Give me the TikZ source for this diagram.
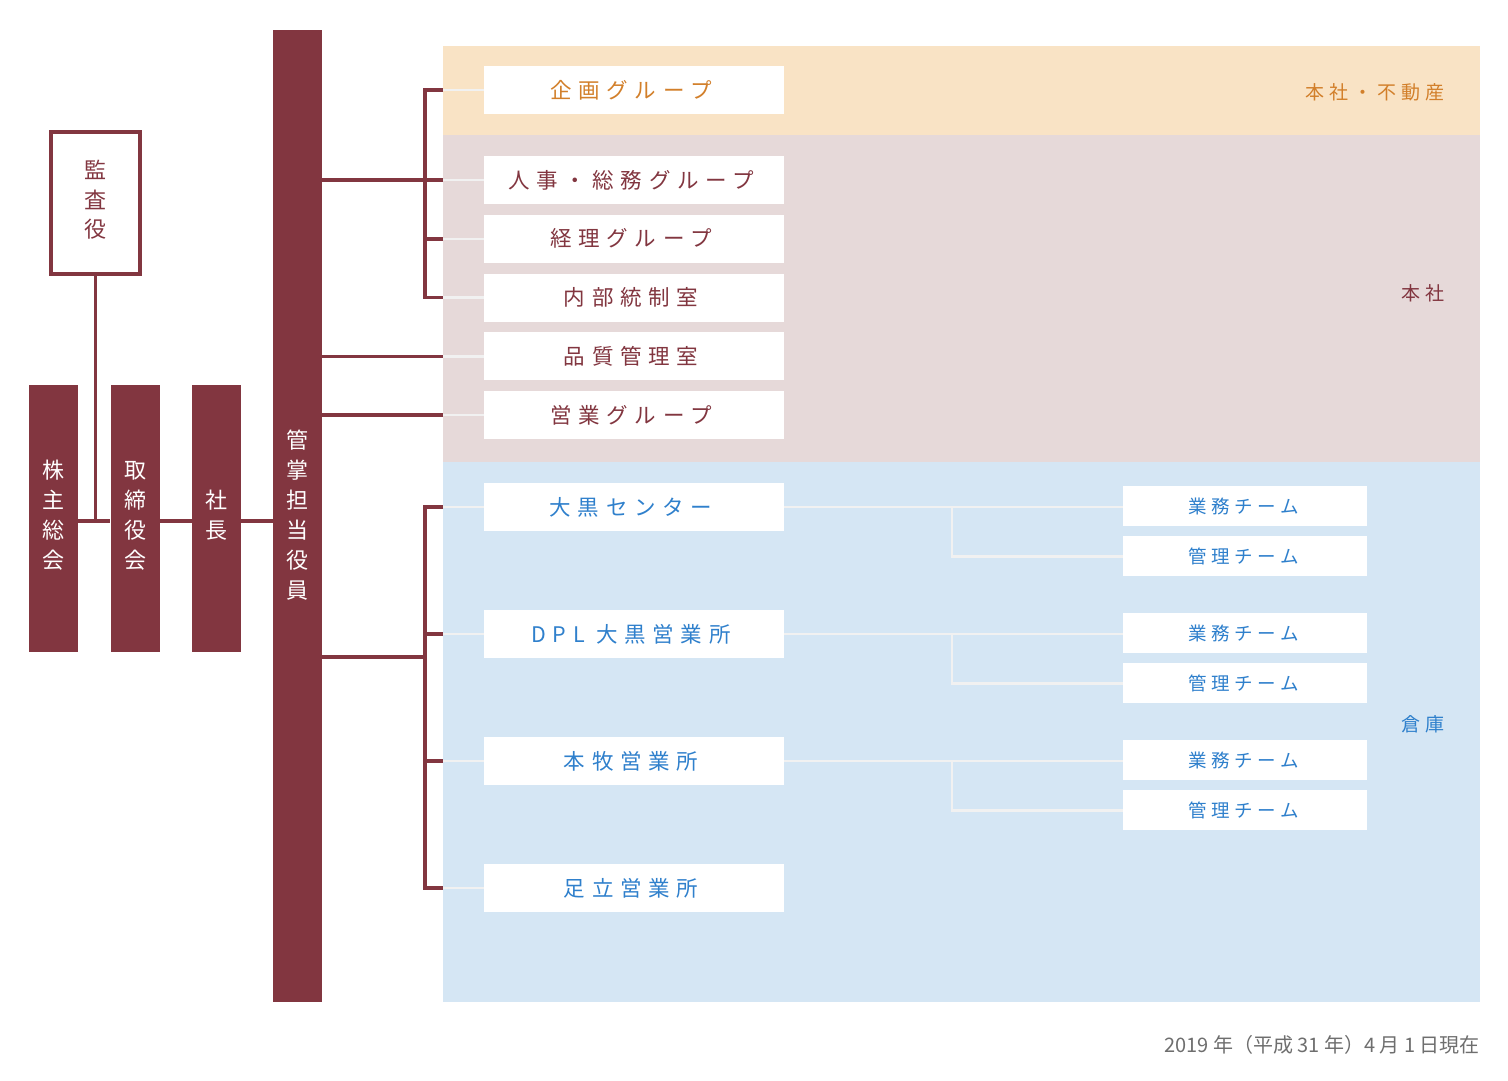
\documentclass[tikz,border=0pt]{standalone}
\usepackage{fontspec}
\setmainfont{Noto Sans CJK JP}
\newfontfamily\widefont[LetterSpace=31]{Noto Sans CJK JP}
\newfontfamily\teamfont[LetterSpace=25]{Noto Sans CJK JP}
\newfontfamily\tagfont[LetterSpace=26]{Noto Sans CJK JP}
\usetikzlibrary{positioning}
\definecolor{wine}{HTML}{823640}
\definecolor{bandorange}{HTML}{F9E3C5}
\definecolor{bandpink}{HTML}{E6D9D9}
\definecolor{bandblue}{HTML}{D5E6F4}
\definecolor{txtorange}{HTML}{D27F2A}
\definecolor{txtblue}{HTML}{2F80CC}
\definecolor{tick}{HTML}{F1F1F1}
\definecolor{note}{HTML}{6E6E6E}
\tikzset{
  bar/.style={fill=wine,minimum width=49,minimum height=267,inner sep=0},
  bartext/.style={text=white,inner sep=0,align=center,font=\fontsize{22}{30}\selectfont},
  unit/.style={fill=white,minimum width=300,minimum height=48,inner sep=0,
    font=\widefont\fontsize{21.5}{24}\selectfont,execute at end node=\hspace{6pt}},
  team/.style={fill=white,minimum width=244,minimum height=40,inner sep=0,text=txtblue,
    font=\teamfont\fontsize{18.5}{22}\selectfont,execute at end node=\hspace{3pt}},
  band/.style={anchor=north west,inner sep=0,minimum width=1037},
  tag/.style={anchor=east,inner sep=0,font=\tagfont\fontsize{19}{22}\selectfont},
  wineline/.style={draw=wine,line width=3.5},
  tickline/.style={draw=tick,line width=2.5}
}
\begin{document}
\begin{tikzpicture}[x=1pt,y=-1pt]
  \useasboundingbox (0,0) rectangle (1508,1080);
  % bands
  \node[band,fill=bandorange,minimum height=89] (fudosan) at (443,46) {};
  \node[band,fill=bandpink,minimum height=327] (honsha) at (443,135) {};
  \node[band,fill=bandblue,minimum height=540] (soko) at (443,462) {};
  \node[tag,text=txtorange] (fudosan-tag) at (1444.5,92) {本社・不動産};
  \node[tag,text=wine] (honsha-tag) at (1444.5,293) {本社};
  \node[tag,text=txtblue] (soko-tag) at (1444.5,724) {倉庫};
  % left column
  \coordinate (spine) at (0,521);
  \node[bar,label={[bartext,yshift=3pt]center:株\\主\\総\\会}] (kabunushi) at (53.5,518.5) {};
  \node[bar,label={[bartext,yshift=3pt]center:取\\締\\役\\会}] (torishimari) at (135,518.5) {};
  \node[bar,label={[bartext,yshift=3pt]center:社\\長}] (shacho) at (216.5,518.5) {};
  \node[bar,minimum height=972,label={[bartext,yshift=1pt]center:管\\掌\\担\\当\\役\\員}]
    (kansho) at (297.5,516) {};
  \node[draw=wine,line width=4,minimum width=89,minimum height=142,inner sep=0,
    label={[bartext,text=wine,yshift=3pt,font=\fontsize{22}{29.5}\selectfont]center:監\\査\\役}]
    (kansa) at (95.5,203) {};
  \draw[wineline] (kansa.south) -- (kansa.south |- spine);
  \draw[wineline] (kabunushi.east |- spine) -- (torishimari.west |- spine);
  \draw[wineline] (torishimari.east |- spine) -- (shacho.west |- spine);
  \draw[wineline] (shacho.east |- spine) -- (kansho.west |- spine);
  % units
  \node[unit,text=txtorange] (kikaku) at (634,90) {企画グループ};
  \foreach \n/\t [count=\i] in {jinji/人事・総務グループ,keiri/経理グループ,naibu/内部統制室,
      hinshitsu/品質管理室,eigyo/営業グループ}
    \node[unit,text=wine] (\n) at (634,{180+58.8*(\i-1)}) {\t};
  \foreach \n/\t [count=\i] in {daikoku/大黒センター,dpl/DPL 大黒営業所,honmoku/本牧営業所,
      adachi/足立営業所}
    \node[unit,text=txtblue] (\n) at (634,{507+127*(\i-1)}) {\t};
  % connectors from the officer bar
  \coordinate (feed) at (425,657);
  \draw[wineline] (kansho.east |- jinji) -- (honsha.west |- jinji);
  \draw[wineline] (kansho.east |- hinshitsu) -- (honsha.west |- hinshitsu);
  \draw[wineline] (kansho.east |- eigyo) -- (honsha.west |- eigyo);
  \draw[wineline] (honsha.west |- kikaku) -| (feed |- naibu) -- (honsha.west |- naibu);
  \draw[wineline] (feed |- keiri) -- (honsha.west |- keiri);
  \draw[wineline] (kansho.east |- feed) -- (feed);
  \draw[wineline] (soko.west |- daikoku) -| (feed |- adachi) -- (soko.west |- adachi);
  \draw[wineline] (feed |- dpl) -- (soko.west |- dpl);
  \draw[wineline] (feed |- honmoku) -- (soko.west |- honmoku);
  \foreach \n in {kikaku,jinji,keiri,naibu,hinshitsu,eigyo,daikoku,dpl,honmoku,adachi}
    \draw[tickline] (honsha.west |- \n.west) -- (\n.west);
  % teams
  \coordinate (fork) at (952,0);
  \foreach \s in {daikoku,dpl,honmoku} {
    \node[team,anchor=west] (gyomu-\s) at ([yshift=1pt]\s.east -| 1123,0) {業務チーム};
    \node[team] (kanri-\s) [below=10pt of gyomu-\s] {管理チーム};
    \draw[tickline] (\s.east) -- (\s.east -| gyomu-\s.west);
    \draw[tickline] (fork |- \s.east) |- (kanri-\s.west);
  }
  \node[anchor=east,inner sep=0,text=note,font=\fontsize{20}{22}\selectfont] (asof)
    at (1480,1045) {2019 年（平成 31 年）4 月 1 日現在};
\end{tikzpicture}
\end{document}
